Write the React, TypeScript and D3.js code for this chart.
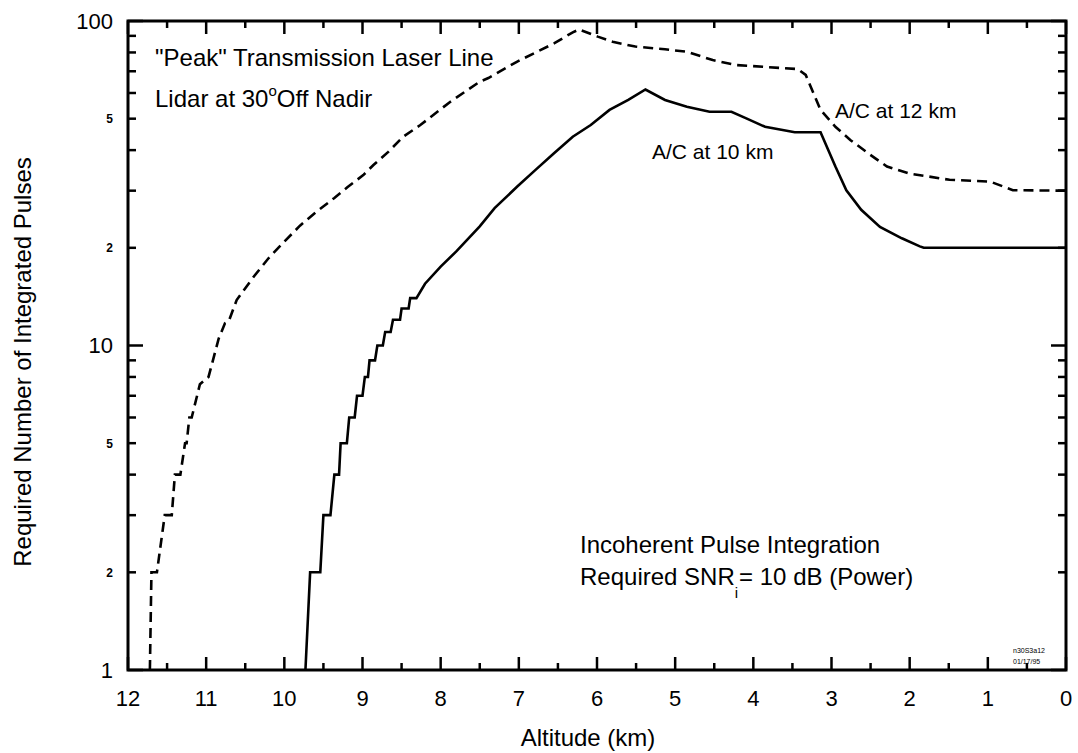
import React from 'react';
import * as d3 from 'd3';

// ---- axis definitions ----
const xMajorTicks = [12, 11, 10, 9, 8, 7, 6, 5, 4, 3, 2, 1, 0];
const xMinorTicks = [11.5, 10.5, 9.5, 8.5, 7.5, 6.5, 5.5, 4.5, 3.5, 2.5, 1.5, 0.5];
const yMajorTicks = [1, 10, 100];
const yMinorTicks = [2, 3, 4, 5, 6, 7, 8, 9, 20, 30, 40, 50, 60, 70, 80, 90];
const yLabelValues = [1, 2, 5, 10, 20, 50, 100];
const yLabelTexts = ['1', '2', '5', '10', '2', '5', '100'];
const yLabelBig = [true, false, false, true, false, false, true];

// ---- A/C at 10 km (solid) : integer plateaus [altStart, altEnd, N] ----
const solidSteps: [number, number, number][] = [
  [9.73, 9.73, 1],
  [9.67, 9.54, 2],
  [9.50, 9.41, 3],
  [9.36, 9.30, 4],
  [9.28, 9.20, 5],
  [9.17, 9.10, 6],
  [9.07, 9.00, 7],
  [8.97, 8.93, 8],
  [8.91, 8.84, 9],
  [8.81, 8.74, 10],
  [8.71, 8.64, 11],
  [8.61, 8.52, 12],
  [8.50, 8.41, 13],
  [8.39, 8.31, 14],
];
// continuation [altitude km, pulses]
const solidCurve: [number, number][] = [
  [8.2, 15.5], [8.0, 17.5], [7.8, 19.5], [7.5, 23.3], [7.31, 26.5], [7.02, 30.9],
  [6.79, 34.7], [6.55, 39.1], [6.31, 44], [6.08, 47.8], [5.84, 53.2], [5.6, 57.1],
  [5.38, 61.5], [5.13, 57.1], [4.85, 54.4], [4.56, 52.5], [4.28, 52.5], [4.09, 50.1],
  [3.85, 47.2], [3.47, 45.4], [3.14, 45.4], [2.95, 35.6], [2.81, 30.1], [2.62, 26.2],
  [2.38, 23.2], [2.10, 21.4], [1.87, 20.2], [1.82, 20], [0, 20],
];

// ---- A/C at 12 km (dashed) ----
const dashedSteps: [number, number, number][] = [
  [11.72, 11.72, 1],
  [11.70, 11.63, 2],
  [11.53, 11.44, 3],
  [11.40, 11.33, 4],
  [11.27, 11.25, 5],
  [11.215, 11.185, 6],
];
const dashedCurve: [number, number][] = [
  [11.08, 7.6], [10.97, 8], [10.84, 10.5], [10.76, 11.7], [10.71, 11.9], [10.61, 13.8],
  [10.4, 16.2], [10.2, 18.6], [10.0, 20.9], [9.8, 23.4], [9.6, 25.7], [9.36, 28.5],
  [9.19, 30.8], [8.99, 33.5], [8.86, 36], [8.67, 39.5], [8.48, 44], [8.26, 47.8],
  [7.88, 56.3], [7.5, 65], [7.39, 66.7], [7.02, 75], [6.55, 85.3], [6.31, 92.3],
  [6.23, 94.2], [5.99, 89.5], [5.8, 86.3], [5.51, 83.4], [5.13, 81.8], [4.85, 80.4],
  [4.52, 75.8], [4.23, 73.2], [3.43, 71.1], [3.33, 68.2], [3.14, 53.2], [2.95, 47.2],
  [2.76, 43], [2.53, 39.1], [2.29, 35.6], [2.01, 33.9], [1.49, 32.4], [0.97, 32],
  [0.68, 30.1], [0, 30],
];

function buildPoints(steps: [number, number, number][], curve: [number, number][]) {
  const pts: [number, number][] = [];
  steps.forEach(([a0, a1, n]) => {
    pts.push([a0, n]);
    if (a1 !== a0) pts.push([a1, n]);
  });
  return pts.concat(curve);
}

export default function App() {
  const W = 1078;
  const H = 753;
  const L = 128, R = 1066, T = 21, B = 670;
  const x = d3.scaleLinear().domain([12, 0]).range([L, R]);
  const y = d3.scaleLog().domain([1, 100]).range([B, T]);
  const font = "'Liberation Sans', Arial, Helvetica, sans-serif";

  const line = d3.line<[number, number]>().x(d => x(d[0])).y(d => y(d[1]));
  const solidPath = line(buildPoints(solidSteps, solidCurve)) || '';
  const dashedPath = line(buildPoints(dashedSteps, dashedCurve)) || '';

  const tickStroke = 2.5;

  return (
    <svg width={W} height={H} style={{ position: 'absolute', left: 0, top: 0, background: '#fff' }}
      fontFamily={font}>
      <rect x={0} y={0} width={W} height={H} fill="#fff" />

      {/* curves */}
      <path d={dashedPath} fill="none" stroke="#000" strokeWidth={2.6} strokeDasharray="10,6" />
      <path d={solidPath} fill="none" stroke="#000" strokeWidth={2.6} />

      {/* frame */}
      <rect x={L} y={T} width={R - L} height={B - T} fill="none" stroke="#000" strokeWidth={3} />

      {/* x ticks */}
      {xMajorTicks.map(v => (
        <g key={'xM' + v}>
          <line x1={x(v)} x2={x(v)} y1={B} y2={B - 13} stroke="#000" strokeWidth={tickStroke} />
          <line x1={x(v)} x2={x(v)} y1={T} y2={T + 13} stroke="#000" strokeWidth={tickStroke} />
          <text x={x(v)} y={706} fontSize={22} textAnchor="middle">{v}</text>
        </g>
      ))}
      {xMinorTicks.map(v => (
        <g key={'xm' + v}>
          <line x1={x(v)} x2={x(v)} y1={B} y2={B - 7} stroke="#000" strokeWidth={tickStroke} />
          <line x1={x(v)} x2={x(v)} y1={T} y2={T + 7} stroke="#000" strokeWidth={tickStroke} />
        </g>
      ))}

      {/* y ticks */}
      {yMajorTicks.map(v => (
        <g key={'yM' + v}>
          <line x1={L} x2={L + 15} y1={y(v)} y2={y(v)} stroke="#000" strokeWidth={tickStroke} />
          <line x1={R} x2={R - 15} y1={y(v)} y2={y(v)} stroke="#000" strokeWidth={tickStroke} />
        </g>
      ))}
      {yMinorTicks.map(v => (
        <g key={'ym' + v}>
          <line x1={L} x2={L + 8} y1={y(v)} y2={y(v)} stroke="#000" strokeWidth={tickStroke} />
          <line x1={R} x2={R - 8} y1={y(v)} y2={y(v)} stroke="#000" strokeWidth={tickStroke} />
        </g>
      ))}
      {yLabelValues.map((v, i) => (
        <text key={'yl' + v} x={113} y={y(v)} dy="0.36em" textAnchor="end"
          fontSize={yLabelBig[i] ? 22 : 12} fontWeight={yLabelBig[i] ? 'normal' : 'bold'}>
          {yLabelTexts[i]}
        </text>
      ))}

      {/* axis titles */}
      <text x={588} y={746} fontSize={24} textAnchor="middle">Altitude (km)</text>
      <text transform={`translate(31,362) rotate(-90)`} fontSize={24} textAnchor="middle">
        Required Number of Integrated Pulses
      </text>

      {/* annotations */}
      <text x={155} y={66} fontSize={24}>"Peak" Transmission Laser Line</text>
      <text x={155} y={107} fontSize={24}>
        Lidar at 30<tspan fontSize={15} dy={-11}>o</tspan><tspan dy={11}>Off Nadir</tspan>
      </text>
      <text x={835} y={118} fontSize={21}>A/C at 12 km</text>
      <text x={652} y={159} fontSize={21}>A/C at 10 km</text>
      <text x={580} y={553} fontSize={24}>Incoherent Pulse Integration</text>
      <text x={580} y={585} fontSize={24}>
        Required SNR<tspan fontSize={15} dy={13}>i</tspan><tspan dx={1} dy={-13}>= 10 dB (Power)</tspan>
      </text>
      <text x={1013} y={653} fontSize={7}>n30S3a12</text>
      <text x={1013} y={664} fontSize={7}>01/17/95</text>
    </svg>
  );
}
